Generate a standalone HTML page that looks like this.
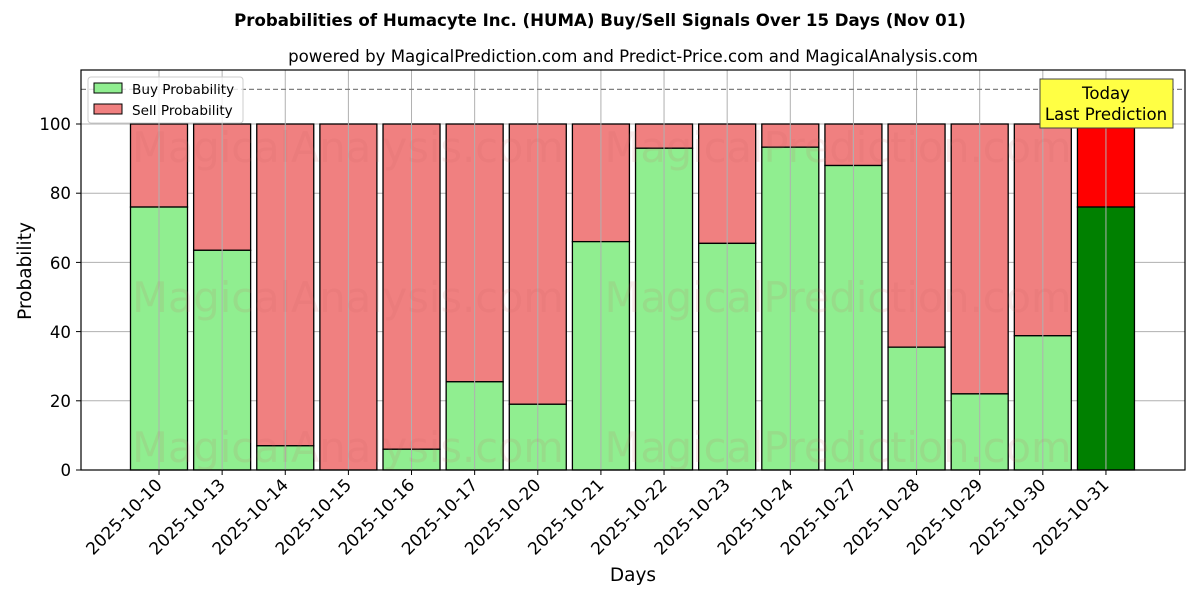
<!DOCTYPE html>
<html><head><meta charset="utf-8"><style>body{margin:0;background:#fff}svg{display:block}text{font-family:"DejaVu Sans","Liberation Sans",sans-serif}</style></head><body>
<svg width="1200" height="600" xmlns="http://www.w3.org/2000/svg">
<text x="600" y="26" text-anchor="middle" font-size="16.6" font-weight="bold">Probabilities of Humacyte Inc. (HUMA) Buy/Sell Signals Over 15 Days (Nov 01)</text>
<text x="633" y="62" text-anchor="middle" font-size="16.6">powered by MagicalPrediction.com and Predict-Price.com and MagicalAnalysis.com</text>
<g id="grid" stroke="#b0b0b0" stroke-width="1">
<line x1="81" x2="1185" y1="470" y2="470"/><line x1="81" x2="1185" y1="400.8" y2="400.8"/><line x1="81" x2="1185" y1="331.6" y2="331.6"/><line x1="81" x2="1185" y1="262.4" y2="262.4"/><line x1="81" x2="1185" y1="193.2" y2="193.2"/><line x1="81" x2="1185" y1="124" y2="124"/>
</g>
<g id="bars" stroke="#000" stroke-width="1.3"></g>
<g id="vgrid" stroke="#b0b0b0" stroke-width="1"></g>
<line x1="81" x2="1185" y1="89.4" y2="89.4" stroke="#808080" stroke-width="1.3" stroke-dasharray="5,3"/>
<g font-size="41.5" fill="rgba(200,100,100,0.13)" text-anchor="middle">
<text x="348" y="162">MagicalAnalysis.com</text><text x="838" y="162">MagicalPrediction.com</text>
<text x="348" y="312">MagicalAnalysis.com</text><text x="838" y="312">MagicalPrediction.com</text>
<text x="348" y="462">MagicalAnalysis.com</text><text x="838" y="462">MagicalPrediction.com</text>
</g>
<rect x="81" y="70" width="1104" height="400" fill="none" stroke="#000" stroke-width="1.2"/>
<g font-size="16.6" text-anchor="end">
<text x="71" y="476">0</text><text x="71" y="407">20</text><text x="71" y="338">40</text><text x="71" y="269">60</text><text x="71" y="199">80</text><text x="71" y="130">100</text>
</g>
<g stroke="#000"><line x1="76" x2="81" y1="470" y2="470"/><line x1="76" x2="81" y1="400.8" y2="400.8"/><line x1="76" x2="81" y1="331.6" y2="331.6"/><line x1="76" x2="81" y1="262.4" y2="262.4"/><line x1="76" x2="81" y1="193.2" y2="193.2"/><line x1="76" x2="81" y1="124" y2="124"/></g>
<g id="xl" font-size="17" text-anchor="end"></g>
<text x="31" y="271" font-size="18.5" text-anchor="middle" transform="rotate(-90 31 271)">Probability</text>
<text x="633" y="581" font-size="18.5" text-anchor="middle">Days</text>
<rect x="88" y="77" width="155" height="46" fill="#fff" fill-opacity="0.8" stroke="#ccc" rx="3"/>
<rect x="94" y="83" width="28" height="10" fill="#90ee90" stroke="#000"/><text x="132" y="94" font-size="13.6">Buy Probability</text>
<rect x="94" y="104" width="28" height="10" fill="#f08080" stroke="#000"/><text x="132" y="115" font-size="13.6">Sell Probability</text>
<rect x="1040" y="79" width="133" height="49" fill="#ffff44" stroke="#444"/>
<text x="1106" y="99" font-size="16.6" text-anchor="middle">Today</text>
<text x="1106" y="120" font-size="16.6" text-anchor="middle">Last Prediction</text>
</svg>
<script>
var buy=[76,63.5,7,0,6,25.5,19,66,93,65.5,93.3,88,35.5,22,38.8,76];
var d=["2025-10-10","2025-10-13","2025-10-14","2025-10-15","2025-10-16","2025-10-17","2025-10-20","2025-10-21","2025-10-22","2025-10-23","2025-10-24","2025-10-27","2025-10-28","2025-10-29","2025-10-30","2025-10-31"];
var b=document.getElementById('bars'),g=document.getElementById('vgrid'),xl=document.getElementById('xl'),h='',gh='',xh='';
for(var i=0;i<16;i++){var c=159+i*63.13,x=c-28.5,yb=470-buy[i]*3.46,last=i==15;
h+='<rect x="'+x+'" y="124" width="57" height="'+(yb-124)+'" fill="'+(last?'#ff0000':'#f08080')+'"/>';
h+='<rect x="'+x+'" y="'+yb+'" width="57" height="'+(470-yb)+'" fill="'+(last?'#008000':'#90ee90')+'"/>';
gh+='<line x1="'+c+'" x2="'+c+'" y1="70" y2="470"/>';
xh+='<line x1="'+c+'" x2="'+c+'" y1="470" y2="475" stroke="#000"/><text x="'+(c+4)+'" y="486" transform="rotate(-45 '+(c+4)+' 486)">'+d[i]+'</text>';}
b.innerHTML=h;g.innerHTML=gh;xl.innerHTML=xh;
</script>
</body></html>
